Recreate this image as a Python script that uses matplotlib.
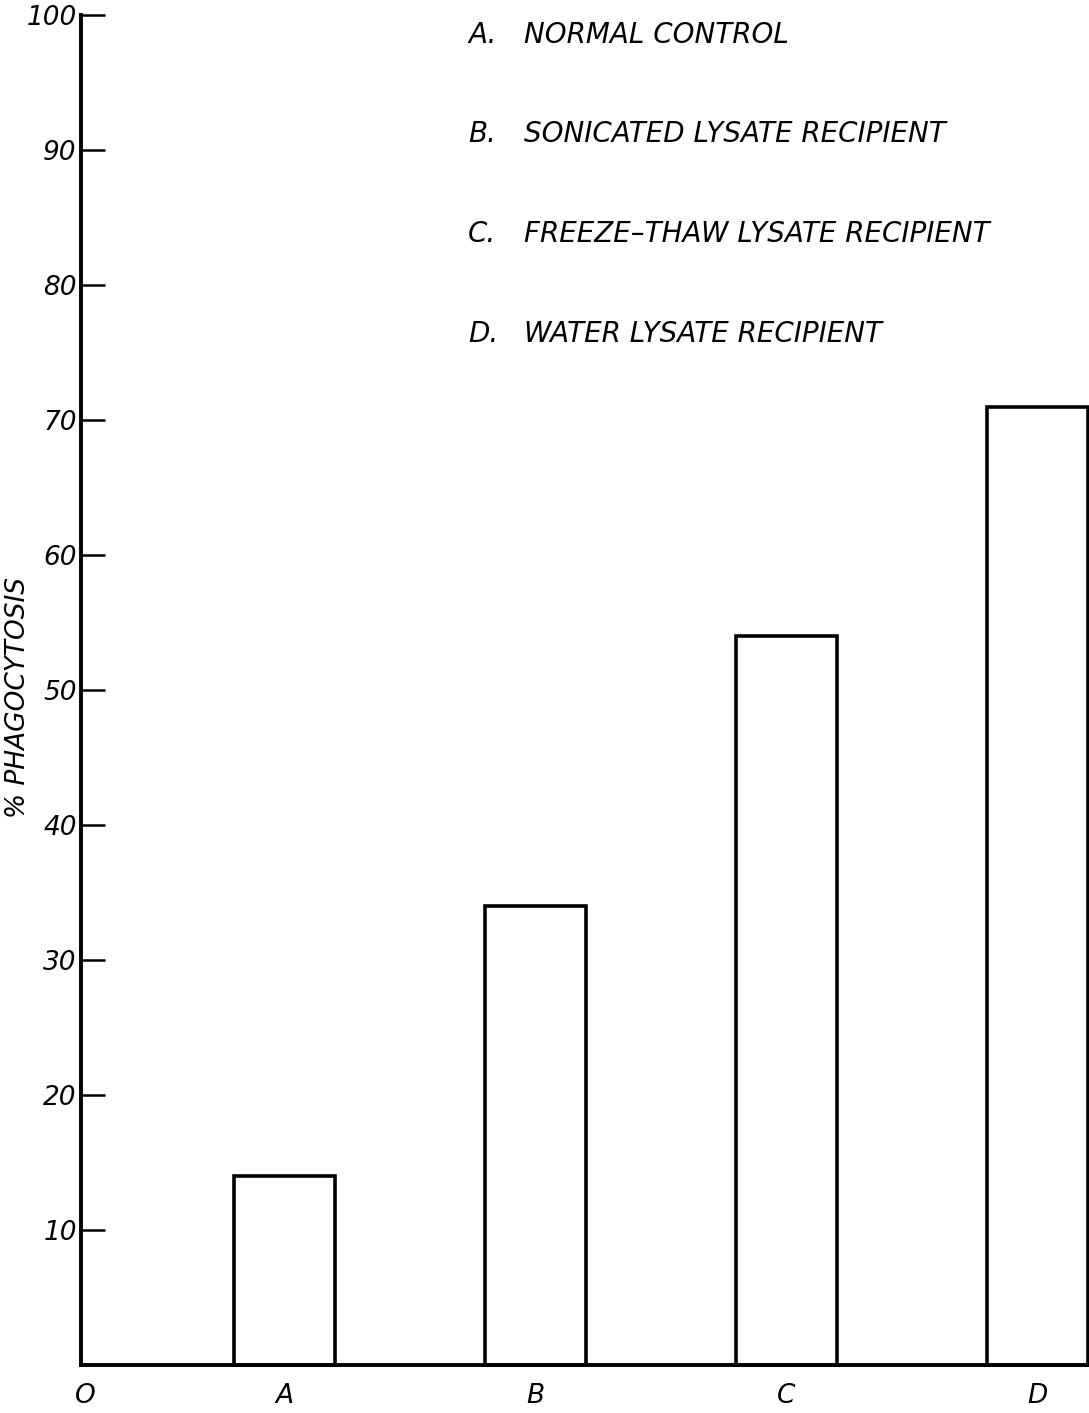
import matplotlib
matplotlib.use('Agg')
import matplotlib.pyplot as plt

# values
groups = ['A', 'B', 'C', 'D']
phago = [14, 34, 54, 71]
yticks = [10, 20, 30, 40, 50, 60, 70, 80, 90, 100]
legend_letters = ['A.', 'B.', 'C.', 'D.']
legend_names = ['NORMAL CONTROL', 'SONICATED LYSATE RECIPIENT',
                'FREEZE\u2013THAW LYSATE RECIPIENT', 'WATER LYSATE RECIPIENT']

W, H = 1089, 1413
FONT = dict(family='DejaVu Sans', style='italic')


def main():
	fig = plt.figure(figsize=(W / 100, H / 100), dpi=100)
	ax = fig.add_axes([81 / W, 48 / H, 1008 / W, 1350 / H])

	pos = list(range(1, len(groups) + 1))
	ax.bar(pos, phago, width=0.40, facecolor='white', edgecolor='black',
		   linewidth=2.6, clip_on=False)

	ax.set_ylim(0, 100)
	ax.set_xlim(0.189, 4.205)

	for s in ['top', 'right']:
		ax.spines[s].set_visible(False)
	for s in ['left', 'bottom']:
		ax.spines[s].set_linewidth(2.8)

	ax.set_yticks(yticks)
	ax.set_yticklabels([str(v) for v in yticks], fontsize=19, **FONT)
	ax.tick_params(axis='y', direction='in', length=17, width=1.8, pad=3)

	ax.set_xticks([0.205] + pos)
	ax.set_xticklabels(['O'] + groups, fontsize=19, **FONT)
	ax.tick_params(axis='x', length=0, pad=13)

	# y label
	fig.text(18 / W, 1 - 697 / H, '% PHAGOCYTOSIS', rotation=90,
			 ha='center', va='center', fontsize=19, **FONT)

	# key at top
	for i in range(len(legend_letters)):
		y = 1 - (35 + i * 99.5) / H
		fig.text(468 / W, y, legend_letters[i], ha='left', va='center', fontsize=20, **FONT)
		fig.text(524 / W, y, legend_names[i], ha='left', va='center', fontsize=20, **FONT)

	fig.savefig('out.png', dpi=100)


if __name__ == "__main__":
	main()
